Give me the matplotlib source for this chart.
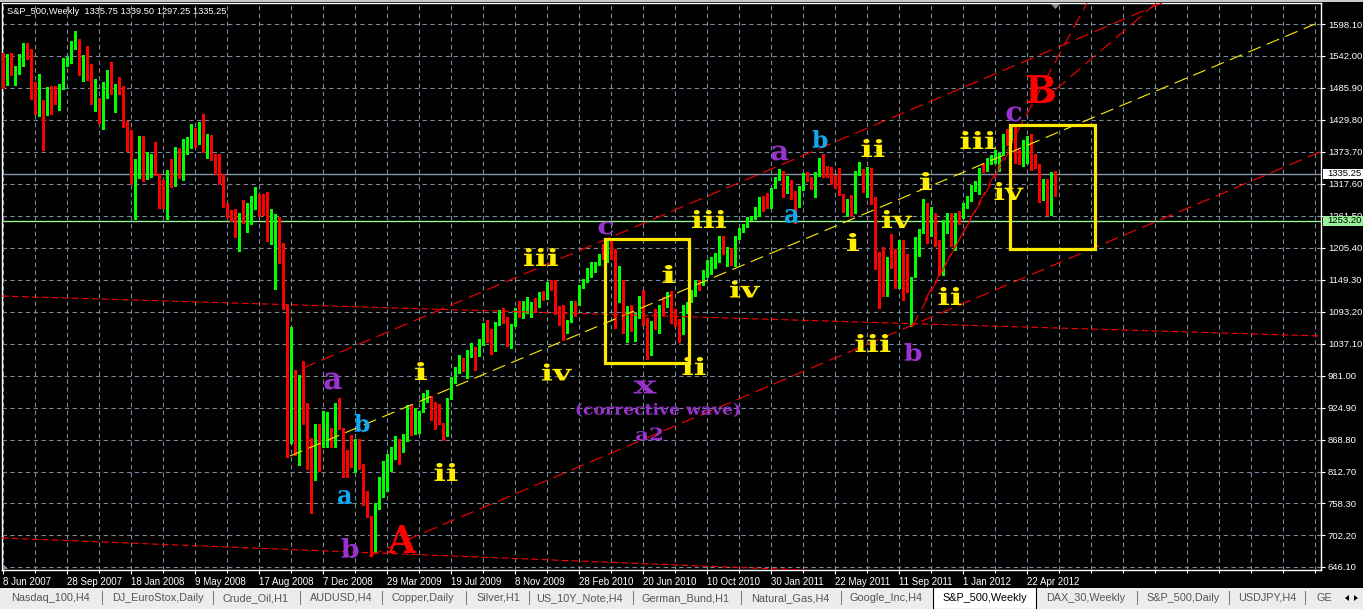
import numpy as np
import matplotlib
matplotlib.use("Agg")
import matplotlib.pyplot as plt
import matplotlib.transforms as mtransforms
from matplotlib.patches import Rectangle, PathPatch, Polygon
from matplotlib.textpath import TextPath
from matplotlib.font_manager import FontProperties

W, H = 1363, 609

# ---------------------------------------------------------------- data
symbol = "S&P_500,Weekly"

opens = [
    1542, 1494, 1541, 1510, 1511, 1538, 1560, 1542, 1467, 1441,
    1462, 1454, 1487, 1482, 1462, 1492, 1534, 1535, 1566, 1570,
    1509, 1543, 1518, 1462, 1467, 1449, 1489, 1513, 1476, 1492,
    1486, 1419, 1407, 1331, 1336, 1400, 1336, 1354, 1357, 1334,
    1296, 1290, 1331, 1316, 1372, 1334, 1391, 1398, 1414, 1389,
    1426, 1376, 1400, 1361, 1360, 1318, 1278, 1263, 1258, 1240,
    1261, 1258, 1260, 1296, 1298, 1292, 1283, 1242, 1252, 1255,
    1213, 1093, 921, 944, 865, 976, 931, 873, 800, 896,
    876, 880, 888, 873, 932, 890, 850, 832, 826, 869,
    827, 770, 735, 683, 757, 769, 816, 843, 857, 870,
    866, 878, 929, 883, 887, 919, 940, 946, 921, 919,
    896, 879, 940, 979, 987, 1010, 1004, 1026, 1029, 1016,
    1043, 1068, 1044, 1025, 1071, 1088, 1080, 1036, 1069, 1093,
    1091, 1091, 1106, 1106, 1102, 1126, 1116, 1145, 1136, 1092,
    1074, 1066, 1076, 1109, 1105, 1139, 1150, 1160, 1167, 1178,
    1194, 1192, 1217, 1187, 1111, 1136, 1088, 1089, 1065, 1092,
    1118, 1077, 1023, 1078, 1065, 1103, 1102, 1122, 1079, 1072,
    1065, 1105, 1110, 1126, 1149, 1146, 1165, 1176, 1183, 1183,
    1226, 1199, 1200, 1189, 1225, 1240, 1244, 1257, 1258, 1272,
    1293, 1283, 1276, 1311, 1329, 1340, 1320, 1321, 1304, 1279,
    1314, 1332, 1328, 1320, 1337, 1364, 1340, 1338, 1333, 1331,
    1300, 1271, 1272, 1268, 1340, 1344, 1316, 1345, 1292, 1199,
    1179, 1124, 1177, 1174, 1154, 1216, 1136, 1131, 1155, 1225,
    1238, 1285, 1253, 1264, 1216, 1159, 1244, 1255, 1220, 1265,
    1258, 1278, 1289, 1315, 1316, 1345, 1343, 1361, 1366, 1370,
    1371, 1404, 1397, 1407, 1368, 1355, 1372, 1400, 1368, 1350,
    1295, 1325, 1263, 1335.75,
]
highs = [
    1548, 1546, 1548, 1525, 1546, 1564, 1564, 1554, 1496, 1511,
    1464, 1487, 1489, 1489, 1493, 1538, 1541, 1569, 1586, 1572,
    1543, 1560, 1528, 1501, 1469, 1496, 1518, 1531, 1493, 1506,
    1489, 1428, 1412, 1362, 1402, 1401, 1373, 1371, 1391, 1335,
    1324, 1343, 1361, 1382, 1380, 1396, 1400, 1423, 1416, 1427,
    1441, 1406, 1404, 1370, 1370, 1335, 1285, 1272, 1273, 1266,
    1290, 1285, 1297, 1313, 1300, 1300, 1303, 1274, 1265, 1260,
    1215, 1106, 1067, 991, 983, 1007, 933, 873, 896, 896,
    919, 918, 890, 934, 943, 890, 852, 877, 870, 870,
    827, 780, 735, 759, 804, 832, 845, 857, 876, 871,
    880, 930, 930, 925, 920, 951, 956, 946, 935, 931,
    898, 943, 980, 996, 1018, 1012, 1027, 1039, 1031, 1045,
    1074, 1080, 1063, 1076, 1097, 1101, 1085, 1072, 1101, 1113,
    1112, 1119, 1110, 1117, 1128, 1130, 1145, 1150, 1150, 1103,
    1105, 1080, 1112, 1113, 1140, 1151, 1170, 1181, 1181, 1195,
    1213, 1218, 1220, 1203, 1173, 1150, 1104, 1105, 1092, 1121,
    1131, 1082, 1078, 1099, 1106, 1120, 1128, 1130, 1099, 1081,
    1105, 1110, 1131, 1149, 1150, 1167, 1184, 1190, 1196, 1227,
    1227, 1207, 1205, 1226, 1241, 1247, 1259, 1262, 1278, 1294,
    1296, 1302, 1311, 1330, 1344, 1341, 1332, 1325, 1305, 1314,
    1337, 1339, 1329, 1338, 1364, 1370, 1349, 1347, 1334, 1346,
    1300, 1292, 1298, 1341, 1356, 1344, 1347, 1345, 1294, 1199,
    1208, 1190, 1230, 1204, 1220, 1220, 1195, 1155, 1225, 1239,
    1292, 1285, 1277, 1266, 1220, 1254, 1267, 1266, 1266, 1270,
    1285, 1296, 1316, 1322, 1346, 1354, 1363, 1368, 1378, 1372,
    1406, 1414, 1419, 1417, 1378, 1395, 1402, 1405, 1370, 1352,
    1327, 1326, 1338, 1339.50,
]
lows = [
    1486, 1492, 1508, 1492, 1511, 1525, 1537, 1466, 1440, 1437,
    1378, 1438, 1440, 1457, 1447, 1484, 1524, 1529, 1554, 1508,
    1498, 1500, 1458, 1446, 1424, 1414, 1468, 1475, 1443, 1476,
    1418, 1376, 1318, 1256, 1328, 1322, 1326, 1330, 1333, 1275,
    1276, 1256, 1313, 1314, 1328, 1325, 1371, 1380, 1382, 1387,
    1374, 1363, 1359, 1335, 1317, 1278, 1260, 1252, 1225, 1200,
    1250, 1234, 1248, 1274, 1261, 1263, 1217, 1212, 1133, 1179,
    1099, 839, 863, 843, 825, 897, 818, 741, 799, 815,
    857, 857, 857, 857, 888, 804, 804, 821, 812, 818,
    754, 734, 666, 672, 747, 768, 779, 814, 836, 826,
    847, 867, 878, 880, 881, 918, 935, 903, 888, 896,
    869, 875, 940, 969, 987, 990, 978, 1014, 991, 1016,
    1036, 1041, 1020, 1025, 1070, 1074, 1034, 1030, 1069, 1085,
    1083, 1091, 1085, 1095, 1102, 1114, 1116, 1131, 1090, 1071,
    1044, 1056, 1075, 1086, 1105, 1136, 1145, 1155, 1163, 1175,
    1186, 1180, 1186, 1065, 1111, 1056, 1040, 1060, 1042, 1082,
    1071, 1010, 1018, 1064, 1056, 1088, 1102, 1074, 1069, 1040,
    1055, 1091, 1110, 1122, 1131, 1140, 1155, 1159, 1171, 1181,
    1194, 1173, 1176, 1174, 1222, 1233, 1243, 1254, 1257, 1262,
    1271, 1275, 1276, 1311, 1324, 1294, 1302, 1291, 1249, 1278,
    1307, 1322, 1309, 1295, 1331, 1330, 1329, 1318, 1311, 1298,
    1268, 1262, 1262, 1267, 1333, 1303, 1295, 1283, 1168, 1101,
    1121, 1121, 1170, 1136, 1136, 1114, 1128, 1068, 1155, 1191,
    1231, 1215, 1226, 1209, 1158, 1158, 1231, 1209, 1202, 1248,
    1258, 1275, 1287, 1306, 1300, 1338, 1340, 1352, 1354, 1340,
    1369, 1386, 1391, 1354, 1352, 1350, 1355, 1342, 1346, 1286,
    1290, 1263, 1263, 1297.25,
]
closes = [
    1494, 1541, 1510, 1511, 1538, 1560, 1542, 1467, 1441, 1462,
    1454, 1487, 1482, 1462, 1492, 1534, 1535, 1566, 1570, 1509,
    1543, 1518, 1462, 1467, 1449, 1489, 1513, 1476, 1492, 1486,
    1419, 1407, 1331, 1336, 1400, 1336, 1354, 1357, 1334, 1296,
    1290, 1331, 1316, 1372, 1334, 1391, 1398, 1414, 1389, 1426,
    1376, 1400, 1361, 1360, 1318, 1278, 1263, 1258, 1240, 1261,
    1258, 1260, 1296, 1298, 1292, 1283, 1242, 1252, 1255, 1213,
    1099, 923, 944, 865, 976, 931, 873, 800, 896, 876,
    880, 888, 873, 932, 890, 850, 832, 826, 869, 827,
    770, 735, 683, 757, 769, 816, 843, 857, 870, 866,
    878, 929, 883, 887, 919, 940, 946, 921, 919, 896,
    879, 940, 979, 987, 1010, 1004, 1026, 1029, 1016, 1043,
    1068, 1044, 1025, 1071, 1088, 1080, 1036, 1069, 1093, 1091,
    1091, 1106, 1106, 1102, 1126, 1115, 1145, 1136, 1092, 1074,
    1066, 1076, 1109, 1104, 1139, 1150, 1160, 1167, 1178, 1194,
    1192, 1217, 1187, 1111, 1136, 1088, 1089, 1065, 1092, 1118,
    1077, 1023, 1078, 1065, 1103, 1102, 1122, 1079, 1072, 1065,
    1105, 1110, 1126, 1149, 1146, 1165, 1176, 1183, 1183, 1226,
    1199, 1200, 1189, 1225, 1240, 1244, 1257, 1258, 1272, 1293,
    1283, 1276, 1311, 1329, 1343, 1320, 1321, 1304, 1279, 1314,
    1332, 1328, 1320, 1337, 1364, 1340, 1338, 1333, 1331, 1300,
    1271, 1272, 1268, 1340, 1344, 1316, 1345, 1292, 1199, 1179,
    1124, 1177, 1174, 1154, 1216, 1136, 1131, 1155, 1225, 1238,
    1285, 1253, 1264, 1216, 1159, 1244, 1255, 1220, 1265, 1258,
    1278, 1289, 1315, 1316, 1345, 1343, 1361, 1366, 1370, 1371,
    1404, 1397, 1408, 1368, 1355, 1389, 1400, 1368, 1350, 1295,
    1325, 1263, 1337, 1335.25,
]

date_labels = ["8 Jun 2007", "28 Sep 2007", "18 Jan 2008", "9 May 2008",
               "17 Aug 2008", "7 Dec 2008", "29 Mar 2009", "19 Jul 2009",
               "8 Nov 2009", "28 Feb 2010", "20 Jun 2010", "10 Oct 2010",
               "30 Jan 2011", "22 May 2011", "11 Sep 2011", "1 Jan 2012",
               "22 Apr 2012"]
price_ticks = [1598.10, 1542.00, 1485.90, 1429.80, 1373.70, 1317.60,
               1261.50, 1205.40, 1149.30, 1093.20, 1037.10, 981.00,
               924.90, 868.80, 812.70, 758.30, 702.20, 646.10]
bid_price = 1335.25
level_price = 1253.20

tabs = ["Nasdaq_100,H4", "DJ_EuroStox,Daily", "Crude_Oil,H1", "AUDUSD,H4",
        "Copper,Daily", "Silver,H1", "US_10Y_Note,H4", "German_Bund,H1",
        "Natural_Gas,H4", "Google_Inc,H4", "S&P_500,Weekly", "DAX_30,Weekly",
        "S&P_500,Daily", "USDJPY,H4", "GE"]

# trend lines: (bar, price) -> (bar, price)
channel_upper = [(75.0, 995.0), (300.0, 1665.5)]
channel_mid = [(71.75, 840.7), (328.0, 1598.1)]
channel_lower = [(91.5, 665.4), (329.5, 1374.6)]
flat_upper = [(-0.25, 1121.2), (329.5, 1051.1)]
flat_lower = [(-0.25, 697.0), (329.5, 604.5)]
steep_lines = [[(227.25, 1066.9), (271.0, 1634.9)],
               [(230.5, 1114.2), (251.75, 1377.2)],
               [(259.25, 1459.6), (289.25, 1640.2)]]
boxes = [[(150.5, 1003.8), (171.5, 1221.2)],
         [(251.75, 1203.6), (273.0, 1421.0)]]

PURPLE, CYAN, YEL, RED = "#9a32cd", "#12a9ef", "#ffee00", "#ff0000"
# wave labels: text, bar, price, colour, glyph height px, glyph width px
waves = [
    ("a", 82.5, 972.2, PURPLE, 17, 17), ("b", 89.75, 898.6, CYAN, 18, 15),
    ("a", 85.5, 768.8, CYAN, 14, 14), ("b", 86.75, 679.4, PURPLE, 20, 17),
    ("A", 99.75, 695.2, RED, 28, 29), ("i", 104.5, 989.7, YEL, 18, 12),
    ("ii", 110.75, 812.7, YEL, 18, 23), ("iii", 134.5, 1189.6, YEL, 18, 34),
    ("iv", 138.5, 988.0, YEL, 17, 30), ("c", 150.75, 1240.4, PURPLE, 13, 15),
    ("i", 166.5, 1159.8, YEL, 18, 13), ("ii", 172.75, 998.5, YEL, 18, 23),
    ("x", 160.5, 961.7, PURPLE, 13, 23),
    ("(corrective wave)", 163.75, 921.4, PURPLE, 14, 163),
    ("a2", 161.5, 879.3, PURPLE, 13, 26), ("iii", 176.5, 1256.2, YEL, 18, 34),
    ("iv", 185.5, 1133.5, YEL, 17, 30), ("a", 194.25, 1371.9, PURPLE, 15, 17),
    ("b", 204.25, 1396.5, CYAN, 18, 15), ("a", 197.25, 1261.5, CYAN, 14, 14),
    ("ii", 217.5, 1380.7, YEL, 18, 23), ("i", 212.5, 1215.9, YEL, 18, 12),
    ("iv", 223.5, 1256.2, YEL, 18, 30), ("iii", 217.5, 1038.8, YEL, 18, 35),
    ("b", 227.5, 1023.0, PURPLE, 18, 17), ("ii", 236.75, 1121.2, YEL, 18, 23),
    ("i", 230.75, 1322.8, YEL, 18, 12), ("iii", 243.75, 1394.7, YEL, 18, 35),
    ("iv", 251.5, 1305.3, YEL, 18, 29), ("c", 252.75, 1440.3, PURPLE, 15, 15),
    ("B", 259.5, 1484.1, RED, 28, 28),
]

# ---------------------------------------------------------------- layout
PPX = (price_ticks[0] - price_ticks[-1]) / 543.0  # price per pixel
BULL, BEAR = "#00ff00", "#ff0000"
GRID = "#778899"
UI_FONT = "Liberation Sans"

fig = plt.figure(figsize=(W / 100, H / 100), dpi=100, facecolor="black")
ax = fig.add_axes([2 / W, 1 - 570 / H, 1319 / W, 567 / H])
ax.set_facecolor("black")
PX = mtransforms.Affine2D().scale(1 / W, -1 / H).translate(0, 1) + fig.transFigure

o = np.array(opens, float)
h = np.array(highs, float)
l = np.array(lows, float)
c = np.array(closes, float)
x = np.arange(len(c))
col = np.where(c >= o, BULL, BEAR)

ax.vlines(x, l, h, colors=col, lw=0.9, zorder=3, antialiased=False)
ax.bar(x, np.maximum(np.abs(c - o), PPX * 0.8), bottom=np.minimum(o, c),
       width=0.75, color=col, lw=0, zorder=3, antialiased=False)

# price lines
ax.axhline(bid_price, color="#8796a8", lw=1.0, zorder=2)
ax.axhline(level_price, color="#98f098", lw=1.0, zorder=2)

# trend lines
dash = (0, (12, 6))
for seg, colr in [(channel_upper, RED), (channel_mid, YEL), (channel_lower, RED)]:
    (x0, y0), (x1, y1) = seg
    ax.plot([x0, x1], [y0, y1], color=colr, lw=0.8, ls=dash, zorder=4)
for seg in [flat_upper, flat_lower]:
    (x0, y0), (x1, y1) = seg
    ax.plot([x0, x1], [y0, y1], color=RED, lw=0.8, ls=(0, (6, 3)), zorder=4)
for seg in steep_lines:
    (x0, y0), (x1, y1) = seg
    ax.plot([x0, x1], [y0, y1], color=RED, lw=0.8, ls=dash, zorder=4)

for (bx0, by0), (bx1, by1) in boxes:
    ax.add_patch(Rectangle((bx0, by0), bx1 - bx0, by1 - by0, fill=False,
                           edgecolor="#ffe800", lw=2.3, zorder=5))

ax.set_xlim(-0.25, -0.25 + 1319 / 4)
ax.set_ylim(price_ticks[-1] - 3 * PPX, price_ticks[0] + 21 * PPX)

# axes, ticks, grid
major_x = np.arange(len(date_labels)) * 16
minor_x = [v for v in range(8, 330, 8) if v not in set(major_x)]
ax.set_xticks(major_x)
ax.set_xticks(minor_x, minor=True)
ax.set_xticklabels(date_labels)
for t in ax.get_xticklabels():
    t.set_ha("left")
ax.yaxis.tick_right()
ax.set_yticks(price_ticks)
ax.set_yticklabels([f"{v:.2f}" for v in price_ticks])
ax.tick_params(axis="both", which="both", colors="white", direction="out",
               length=3, width=0.8, labelsize=6.8, pad=2)
ax.tick_params(axis="x", which="major", labelsize=7.0)
ax.tick_params(axis="x", which="minor", length=2)
for t in ax.get_xticklabels() + ax.get_yticklabels():
    t.set_fontfamily(UI_FONT)
ax.grid(True, which="both", axis="x", color=GRID, lw=0.8, ls=(0, (4, 3)))
ax.grid(True, which="major", axis="y", color=GRID, lw=0.8, ls=(0, (4, 3)))
ax.set_axisbelow(True)
for s in ax.spines.values():
    s.set_color("white")
    s.set_linewidth(1.0)

# the scale label just above the level marker is half covered by it
level_top = mtransforms.Bbox([[1300, 0], [W, 215.5]])
level_clip = mtransforms.TransformedBbox(level_top, PX)
for tk, val in zip(ax.yaxis.get_major_ticks(), price_ticks):
    if abs(val - level_price) < 10 * PPX:
        for lab in (tk.label1, tk.label2):
            lab.set_clip_box(level_clip)
            lab.set_clip_on(True)

# wave labels
wave_font = FontProperties(family="DejaVu Serif", weight="bold")
for txt, bx, py, colr, gh, gw in waves:
    tp = TextPath((0, 0), txt, size=30, prop=wave_font)
    ext = tp.get_extents()
    tr = (mtransforms.Affine2D()
          .translate(-(ext.x0 + ext.x1) / 2, -(ext.y0 + ext.y1) / 2)
          .scale(gw / ext.width, gh / ext.height)
          + mtransforms.ScaledTranslation(bx, py, ax.transData))
    fig.add_artist(PathPatch(tp, transform=tr, facecolor=colr,
                             edgecolor="none", zorder=6))

# header text
fig.text(7 / W, 1 - 12 / H,
         f"{symbol}  {opens[-1]:.2f} {highs[-1]:.2f} {lows[-1]:.2f} {closes[-1]:.2f}",
         color="white", fontsize=6.7, family=UI_FONT, va="center", ha="left")

# price markers on the scale
blend = mtransforms.blended_transform_factory(PX, ax.transData)
for val, face in [(bid_price, "white"), (level_price, "#98f098")]:
    fig.add_artist(Rectangle((1323, val - 5 * PPX), 40, 10 * PPX,
                             transform=blend, facecolor=face, edgecolor="none",
                             zorder=3))
    fig.add_artist(plt.Text(1327, val, f"{val:.2f}", transform=blend,
                            color="black", fontsize=6.8, family=UI_FONT,
                            va="center", ha="left", zorder=4))

# chart shift markers
fig.add_artist(Polygon([(1051, 4), (1060, 4), (1055.5, 9)], closed=True,
                       transform=PX, facecolor="#8a96a6", edgecolor="none"))
fig.add_artist(Polygon([(3, 564), (3, 569), (8, 569)], closed=True,
                       transform=PX, facecolor="#8a96a6", edgecolor="none"))

# window frame and tab bar
fig.add_artist(Rectangle((0, 0), W, 2, transform=PX, facecolor="#c8c8c8",
                         edgecolor="none"))
fig.add_artist(Rectangle((0, 588), W, 21, transform=PX, facecolor="#ececec",
                         edgecolor="none"))
tab_centers = [50, 158, 256, 341, 423, 498, 579, 686, 790, 886, 985, 1086,
               1183, 1267, 1324]
sep_x = [102, 213, 300, 382, 466, 529, 633, 741, 841, 1137, 1229, 1305]
active = tabs.index(symbol)
fig.add_artist(Rectangle((933, 587), 103, 21.5, transform=PX,
                         facecolor="white", edgecolor="black", lw=0.8))
for i, (name, cx) in enumerate(zip(tabs, tab_centers)):
    fig.text(cx / W, 1 - 598 / H, name, fontsize=7.8, family=UI_FONT,
             color="black" if i == active else "#555555",
             ha="center", va="center")
for sx in sep_x:
    fig.add_artist(Rectangle((sx, 591), 0.8, 14, transform=PX,
                             facecolor="#777777", edgecolor="none"))
fig.add_artist(Polygon([(1345, 598), (1349, 595), (1349, 601)], closed=True,
                       transform=PX, facecolor="black", edgecolor="none"))
fig.add_artist(Polygon([(1358, 598), (1354, 595), (1354, 601)], closed=True,
                       transform=PX, facecolor="black", edgecolor="none"))

fig.savefig("out.png", dpi=100, facecolor="black")
